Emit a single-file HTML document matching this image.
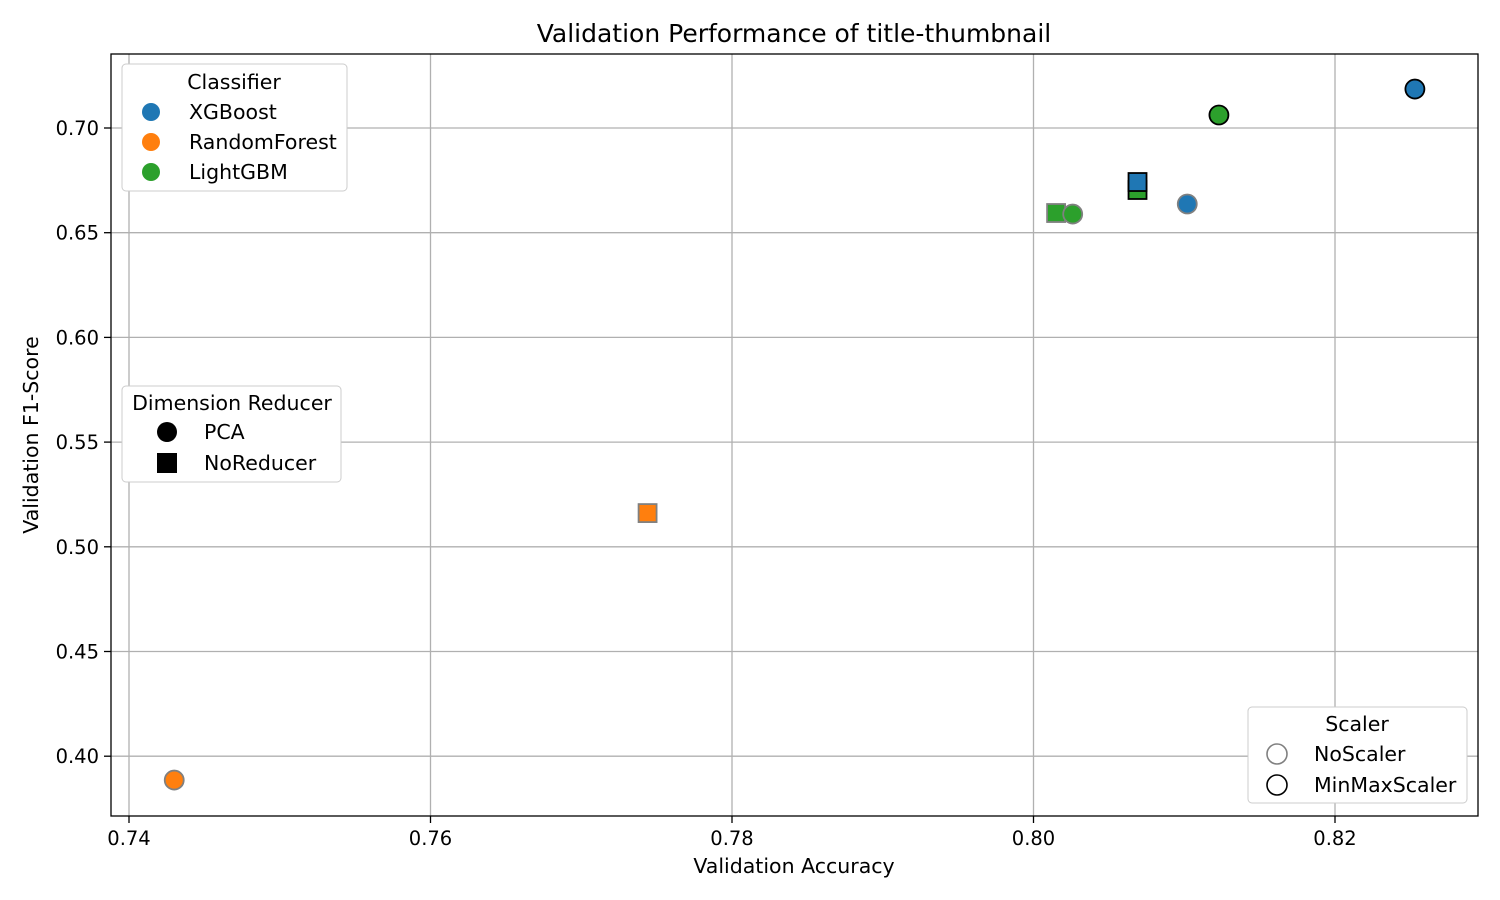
<!DOCTYPE html>
<html><head><meta charset="utf-8"><style>
body{margin:0;background:#fff}
svg{display:block;font-family:"DejaVu Sans","Liberation Sans",sans-serif}
</style></head><body>
<svg id="chart" width="1500" height="900">
<rect width="1500" height="900" fill="#fff"/>
<text x="794" y="42" text-anchor="middle" font-size="25">Validation Performance of title-thumbnail</text>
<g id="grid"></g>
<g id="marks"></g>
<rect x="111" y="54" width="1367" height="762" fill="none" stroke="#000" stroke-width="1.3"/>
<g id="ticks"></g>
<text x="794" y="873" text-anchor="middle" font-size="20.5">Validation Accuracy</text>
<text transform="translate(38,435) rotate(-90)" text-anchor="middle" font-size="20.5">Validation F1-Score</text>

<g>
<rect x="122" y="64" width="225" height="127" rx="4" fill="#fff" stroke="#ccc"/>
<text x="234" y="89" text-anchor="middle" font-size="20.5">Classifier</text>
<g><circle cx="151" cy="112" r="9" fill="#1f77b4"/><text x="189" y="119" font-size="20.5">XGBoost</text></g>
<g><circle cx="151" cy="142" r="9" fill="#ff7f0e"/><text x="189" y="149" font-size="20.5">RandomForest</text></g>
<g><circle cx="151" cy="172" r="9" fill="#2ca02c"/><text x="189" y="179" font-size="20.5">LightGBM</text></g>
</g>
<g>
<rect x="122" y="386" width="219" height="96" rx="4" fill="#fff" stroke="#ccc"/>
<text x="232" y="410" text-anchor="middle" font-size="20.5">Dimension Reducer</text>
<g><circle cx="167" cy="432" r="10" fill="#000"/><text x="204" y="439" font-size="20.5">PCA</text></g>
<g><rect x="157" y="453" width="20" height="20" fill="#000"/><text x="204" y="470" font-size="20.5">NoReducer</text></g>
</g>
<g>
<rect x="1248" y="707" width="219" height="96" rx="4" fill="#fff" stroke="#ccc"/>
<text x="1357" y="731" text-anchor="middle" font-size="20.5">Scaler</text>
<g><circle cx="1277" cy="754" r="10" fill="#fff" stroke="#808080" stroke-width="1.6"/><text x="1314" y="761" font-size="20.5">NoScaler</text></g>
<g><circle cx="1277" cy="785" r="10" fill="#fff" stroke="#000" stroke-width="1.6"/><text x="1314" y="792" font-size="20.5">MinMaxScaler</text></g>
</g>
</svg>
<script>
const xTicks=[0.74,0.76,0.78,0.80,0.82];
const yTicks=[0.40,0.45,0.50,0.55,0.60,0.65,0.70];
const classifiers=["RandomForest","RandomForest","LightGBM","LightGBM","XGBoost","LightGBM","XGBoost","LightGBM","XGBoost"];
const reducers=["PCA","NoReducer","NoReducer","PCA","PCA","NoReducer","NoReducer","PCA","PCA"];
const scalers=["NoScaler","NoScaler","NoScaler","NoScaler","NoScaler","MinMaxScaler","MinMaxScaler","MinMaxScaler","MinMaxScaler"];
const accuracy=[0.7430,0.7744,0.8015,0.8026,0.8102,0.8069,0.8069,0.8123,0.8253];
const f1=[0.3886,0.5161,0.6594,0.6589,0.6637,0.6704,0.6742,0.7062,0.7186];
const colors={XGBoost:"#1f77b4",RandomForest:"#ff7f0e",LightGBM:"#2ca02c"};
const X=v=>129+(v-0.74)/0.02*301.5;
const Y=v=>128-(v-0.70)/0.05*104.7;
const NS="http://www.w3.org/2000/svg";
const grid=document.getElementById('grid'),ticks=document.getElementById('ticks'),marks=document.getElementById('marks');
function mk(t,a,p){const e=document.createElementNS(NS,t);for(const k in a)e.setAttribute(k,a[k]);p.appendChild(e);return e;}
xTicks.forEach(v=>{const x=X(v);
const g=mk('line',{x1:x,x2:x,y1:54,y2:816,stroke:'#b0b0b0','stroke-width':1.3},grid);


mk('line',{x1:x,x2:x,y1:816,y2:823,stroke:'#000','stroke-width':1.3},ticks);
const t=mk('text',{x:x,y:845,'text-anchor':'middle','font-size':19.5},ticks);t.textContent=v.toFixed(2);

});
yTicks.forEach(v=>{const y=Y(v);
const g=mk('line',{x1:111,x2:1478,y1:y,y2:y,stroke:'#b0b0b0','stroke-width':1.3},grid);


mk('line',{x1:104,x2:111,y1:y,y2:y,stroke:'#000','stroke-width':1.3},ticks);
const t=mk('text',{x:99,y:y+7,'text-anchor':'end','font-size':19.5},ticks);t.textContent=v.toFixed(2);

});
accuracy.forEach((a,i)=>{const cx=X(a),cy=Y(f1[i]);
const st=scalers[i]==="NoScaler"?"#808080":"#000";
let e;
if(reducers[i]==="PCA")e=mk('circle',{cx:cx,cy:cy,r:9.5,fill:colors[classifiers[i]],stroke:st,'stroke-width':1.8},marks);
else e=mk('rect',{x:cx-9,y:cy-9,width:18,height:18,fill:colors[classifiers[i]],stroke:st,'stroke-width':1.8},marks);

});
</script>
</body></html>
